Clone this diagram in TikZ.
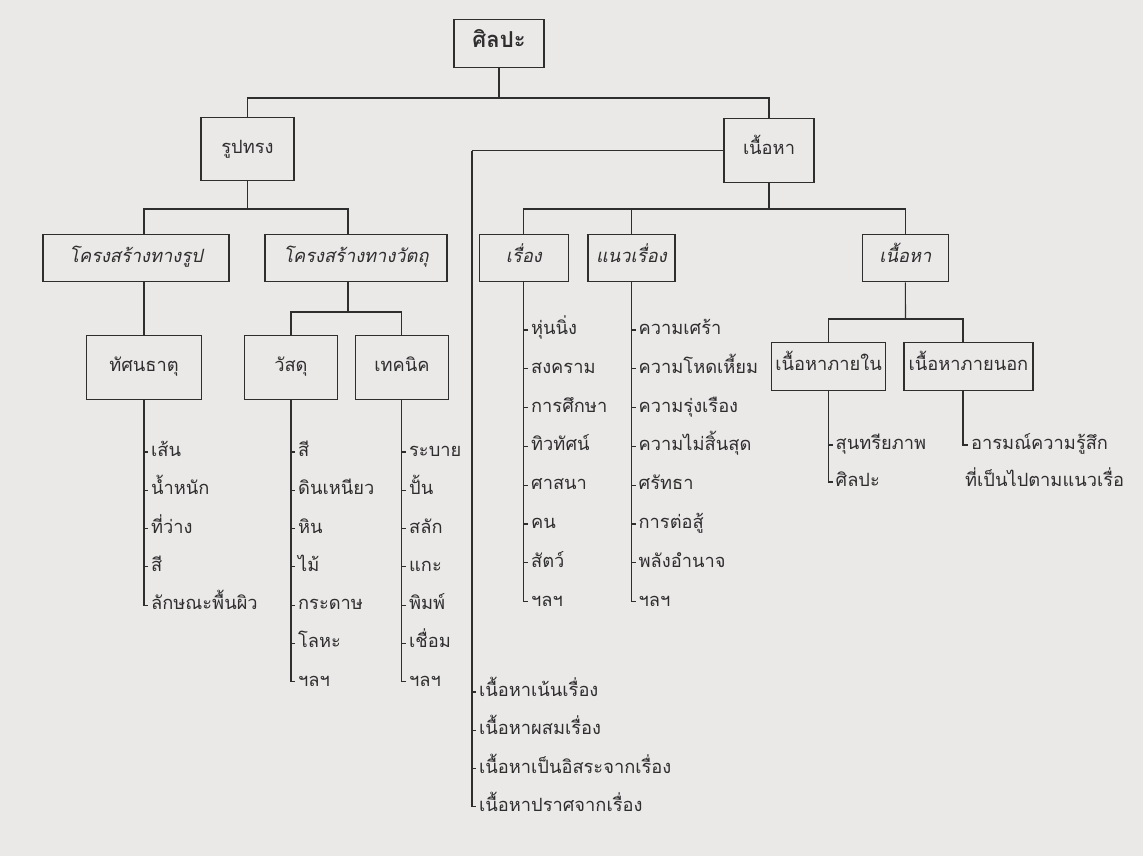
\documentclass[tikz,border=0pt]{standalone}
\usepackage{fontspec}
\setmainfont[Script=Thai]{Loma}
\usepackage{tikz}
\usetikzlibrary{positioning}
\definecolor{paper}{HTML}{EBE8E8}
\definecolor{ink}{HTML}{2E2E2E}
\tikzset{%
	block/.style    = {draw, rectangle, minimum height=0.95cm, text centered, inner sep=2pt, text height=8pt, text depth=3pt, line width=0.7pt},
	tall/.style     = {block, minimum height=1.27cm},
	slant/.style    = {font=\itshape},
	item/.style     = {anchor=west, inner sep=1.5pt, text height=8pt, text depth=3pt}, % list entry
	waypoint/.style = {coordinate},
}

\begin{document}
\fontsize{10.4}{12.5}\selectfont
\begin{tikzpicture}[x=0.02cm,y=-0.02cm,color=ink,line width=0.6pt]
	\useasboundingbox[fill=paper] (0,0) rectangle (1143,856);

	\node [block,minimum width=1.8cm,font=\bfseries\fontsize{12.5}{15}\selectfont] (silpa) at (499,43.5) {ศิลปะ};
	\node [tall,minimum width=1.86cm] (rupsong) at (247.5,149) {รูปทรง};
	\node [tall,minimum width=1.8cm] (nuea) at (769,150.5) {เนื้อหา};

	\node [block,slant,minimum width=3.72cm] (khrongrup) at (136,258) {โครงสร้างทางรูป};
	\node [block,slant,minimum width=3.64cm] (khrongwat) [right of=khrongrup,node distance=4.4cm] {โครงสร้างทางวัตถุ};
	\node [block,slant,minimum width=1.78cm] (rueang) [right of=khrongwat,node distance=3.36cm] {เรื่อง};
	\node [block,slant,minimum width=1.74cm] (naeo) [right of=rueang,node distance=2.15cm] {แนวเรื่อง};
	\node [block,slant,minimum width=1.72cm] (nuea2) [right of=naeo,node distance=5.48cm] {เนื้อหา};

	\node [tall,minimum width=2.3cm] (that) at (144,367.5) {ทัศนธาตุ};
	\node [tall,minimum width=1.86cm] (wasadu) [right of=that,node distance=2.94cm] {วัสดุ};
	\node [tall,minimum width=1.86cm] (technic) [right of=wasadu,node distance=2.22cm] {เทคนิค};
	\node [block,minimum width=2.26cm] (nai) at (828.5,366.5) {เนื้อหาภายใน};
	\node [block,minimum width=2.58cm] (nok) [right of=nai,node distance=2.8cm] {เนื้อหาภายนอก};

	\node [waypoint] (j1) at (499,98) {};
	\node [waypoint] (j2) at (247.5,209) {};
	\node [waypoint] (j3) at (769,209) {};
	\node [waypoint] (j4) at (348,312) {};
	\node [waypoint] (j5) at (905.5,319) {};
	\node [waypoint] (tnok) at (963,390) {};
	\node [waypoint] (tlong) at (472,150.5) {};

	% tree
	\draw (silpa) -- (j1);
	\draw (rupsong) |- (j1) -| (nuea);
	\draw (rupsong) -- (j2);
	\draw (khrongrup.north -| that) |- (j2) -| (khrongwat.north -| j4);
	\draw (khrongrup.south -| that) -- (that);
	\draw (khrongwat.south -| j4) -- (j4);
	\draw (wasadu) |- (j4) -| (technic);
	\draw (nuea) -- (j3);
	\draw (rueang) |- (j3) -| (nuea2);
	\draw (naeo) -- (naeo |- j3);
	\draw (nuea2) -- (j5);
	\draw (nai) |- (j5) -| (tnok |- nok.north);
	\draw (nuea.west) -- (tlong);

	% lists
	\foreach \t [count=\i from 0] in {เส้น,น้ำหนัก,ที่ว่าง,สี,ลักษณะพื้นผิว}
		\node [item] (a\i) at (148,452+38.3*\i) {\t};
	\foreach \t [count=\i from 0] in {สี,ดินเหนียว,หิน,ไม้,กระดาษ,โลหะ,ฯลฯ}
		\node [item] (b\i) at (295,452+38.3*\i) {\t};
	\foreach \t [count=\i from 0] in {ระบาย,ปั้น,สลัก,แกะ,พิมพ์,เชื่อม,ฯลฯ}
		\node [item] (c\i) at (406,452+38.3*\i) {\t};
	\foreach \t [count=\i from 0] in {หุ่นนิ่ง,สงคราม,การศึกษา,ทิวทัศน์,ศาสนา,คน,สัตว์,ฯลฯ}
		\node [item] (d\i) at (528,330+38.8*\i) {\t};
	\foreach \t [count=\i from 0] in {ความเศร้า,ความโหดเหี้ยม,ความรุ่งเรือง,ความไม่สิ้นสุด,ศรัทธา,การต่อสู้,พลังอำนาจ,ฯลฯ}
		\node [item] (e\i) at (635.5,330+38.8*\i) {\t};
	\foreach \t [count=\i from 0] in {เนื้อหาเน้นเรื่อง,เนื้อหาผสมเรื่อง,เนื้อหาเป็นอิสระจากเรื่อง,เนื้อหาปราศจากเรื่อง}
		\node [item] (f\i) at (476,692+38.3*\i) {\t};
	\foreach \t [count=\i from 0] in {สุนทรียภาพ,ศิลปะ}
		\node [item] (g\i) at (832.5,445+37*\i) {\t};
	\node [item] (h0) at (968,445) {อารมณ์ความรู้สึก};
	\node [item] (h1) at (962,482) {ที่เป็นไปตามแนวเรื่อ};

	\foreach \i in {0,...,3} \draw (a\i.west) -- ++(-4,0);
	\foreach \i in {0,...,5} \draw (b\i.west) -- ++(-4,0) (c\i.west) -- ++(-4,0);
	\foreach \i in {0,...,6} \draw (d\i.west) -- ++(-4,0) (e\i.west) -- ++(-4,0);
	\foreach \i in {0,...,2} \draw (f\i.west) -- ++(-4,0);
	\draw (g0.west) -- ++(-4,0);
	\draw (that) |- (a4.west);
	\draw (wasadu) |- (b6.west);
	\draw (technic) |- (c6.west);
	\draw (rueang) |- (d7.west);
	\draw (naeo) |- (e7.west);
	\draw (tlong) |- (f3.west);
	\draw (nai) |- (g1.west);
	\draw (tnok) |- (h0.west);
\end{tikzpicture}
\end{document}
